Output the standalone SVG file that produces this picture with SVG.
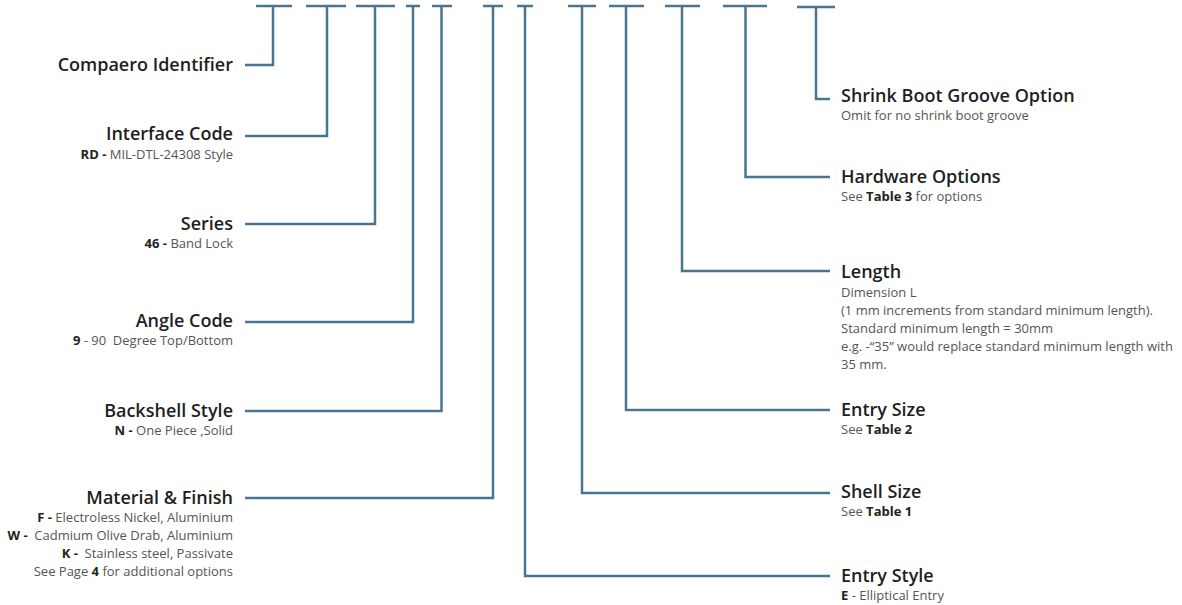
<svg xmlns="http://www.w3.org/2000/svg" width="1182" height="605" viewBox="0 0 1182 605">
<style>
.ln{fill:none;stroke:#4a7490;stroke-width:2.5;stroke-linecap:butt;stroke-linejoin:miter}
.t{font-family:"Open Sans","Noto Sans",sans-serif;font-size:18px;font-weight:600;fill:#1e1e1e}
.s{font-family:"Open Sans","Noto Sans",sans-serif;font-size:13px;font-weight:400;fill:#555}
.s tspan.b{font-weight:700;fill:#222}
.l{text-anchor:end}
</style>
<rect width="1182" height="605" fill="#fff"/>
<g id="connectors">
<path class="ln" d="M256 6H292M273 6V65H245"/>
<path class="ln" d="M306 6H346M327 6V136H245"/>
<path class="ln" d="M356 6H395M375 6V224H245"/>
<path class="ln" d="M406 6H420M413 6V322H245"/>
<path class="ln" d="M432 6H452M441.5 6V411H245"/>
<path class="ln" d="M483 6H503M493 6V498H245"/>
<path class="ln" d="M517 6H533M525 6V576H830"/>
<path class="ln" d="M568 6H596M582 6V493H830"/>
<path class="ln" d="M609 6H644M626 6V410H830"/>
<path class="ln" d="M665 6H700M682 6V271H830"/>
<path class="ln" d="M723 6H767M745.5 6V177H830"/>
<path class="ln" d="M797 7H835M816 7V99H830"/>
</g>
<g id="compaero-identifier">
<text class="t l" x="233" y="71">Compaero Identifier</text>
</g>
<g id="interface-code">
<text class="t l" x="233" y="140">Interface Code</text>
<text class="s l" x="233" y="159"><tspan class="b">RD - </tspan>MIL-DTL-24308 Style</text>
</g>
<g id="series">
<text class="t l" x="233" y="230">Series</text>
<text class="s l" x="233" y="248"><tspan class="b">46 - </tspan>Band Lock</text>
</g>
<g id="angle-code">
<text class="t l" x="233" y="327">Angle Code</text>
<text class="s l" x="233" y="345" xml:space="preserve"><tspan class="b">9</tspan> - 90  Degree Top/Bottom</text>
</g>
<g id="backshell-style">
<text class="t l" x="233" y="417">Backshell Style</text>
<text class="s l" x="233" y="435"><tspan class="b">N - </tspan>One Piece ,Solid</text>
</g>
<g id="material-finish">
<text class="t l" x="233" y="504">Material &amp; Finish</text>
<text class="s l" x="233" y="522" xml:space="preserve"><tspan class="b">F - </tspan>Electroless Nickel, Aluminium</text>
<text class="s l" x="233" y="540" xml:space="preserve"><tspan class="b">W - </tspan> Cadmium Olive Drab, Aluminium</text>
<text class="s l" x="233" y="558" xml:space="preserve"><tspan class="b">K - </tspan> Stainless steel, Passivate</text>
<text class="s l" x="233" y="576">See Page <tspan class="b">4</tspan> for additional options</text>
</g>
<g id="shrink-boot-groove-option">
<text class="t" x="841" y="102">Shrink Boot Groove Option</text>
<text class="s" x="841" y="120">Omit for no shrink boot groove</text>
</g>
<g id="hardware-options">
<text class="t" x="841" y="183">Hardware Options</text>
<text class="s" x="841" y="201">See <tspan class="b">Table 3</tspan> for options</text>
</g>
<g id="length">
<text class="t" x="841" y="278">Length</text>
<text class="s" x="841" y="297">Dimension L</text>
<text class="s" x="841" y="315">(1 mm increments from standard minimum length).</text>
<text class="s" x="841" y="333">Standard minimum length = 30mm</text>
<text class="s" x="841" y="351">e.g. -“35” would replace standard minimum length with</text>
<text class="s" x="841" y="369">35 mm.</text>
</g>
<g id="entry-size">
<text class="t" x="841" y="416">Entry Size</text>
<text class="s" x="841" y="434">See <tspan class="b">Table 2</tspan></text>
</g>
<g id="shell-size">
<text class="t" x="841" y="498">Shell Size</text>
<text class="s" x="841" y="516">See <tspan class="b">Table 1</tspan></text>
</g>
<g id="entry-style">
<text class="t" x="841" y="582">Entry Style</text>
<text class="s" x="841" y="600"><tspan class="b">E</tspan> - Elliptical Entry</text>
</g>
</svg>
